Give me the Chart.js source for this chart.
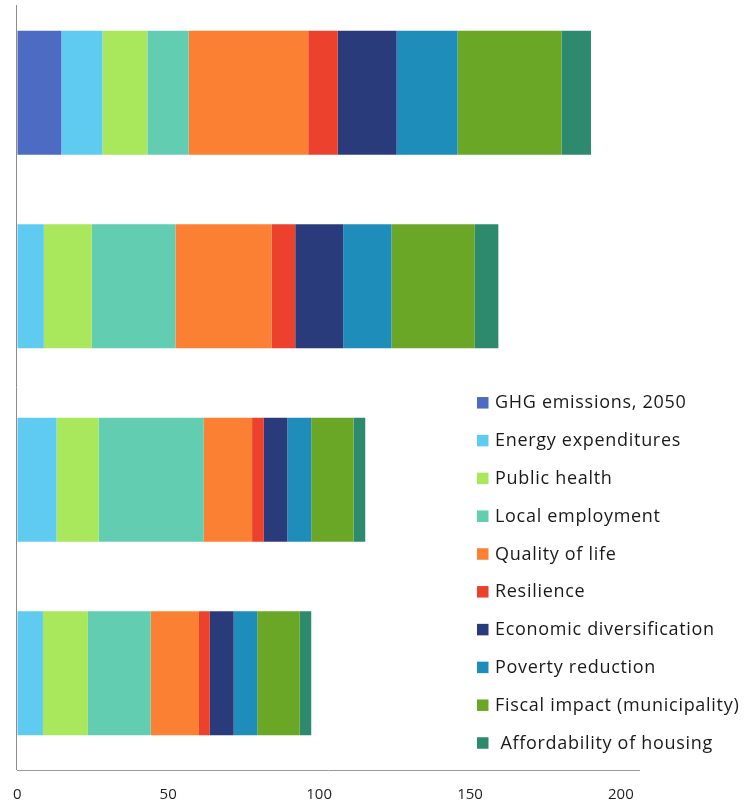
<!DOCTYPE html>
<html>
<head>
<meta charset="utf-8">
<script src="https://cdn.jsdelivr.net/npm/chart.js@4/dist/chart.umd.min.js"></script>
<style>
  html, body { margin: 0; padding: 0; background: #fff; overflow: hidden; }
  #wrap { position: relative; width: 746px; height: 801px; overflow: hidden; }
  #chart { position: absolute; left: -3px; top: -4px; }
</style>
</head>
<body>
<div id="wrap"><canvas id="chart" width="749" height="824"></canvas></div>
<script>
// Four stacked bars, one value per indicator
const categories = ['', '', '', ''];
const xTicks = [0, 50, 100, 150, 200];

const seriesNames = [
  'GHG emissions, 2050',
  'Energy expenditures',
  'Public health',
  'Local employment',
  'Quality of life',
  'Resilience',
  'Economic diversification',
  'Poverty reduction',
  'Fiscal impact (municipality)',
  ' Affordability of housing'
];

const ghgEmissions       = [14.6, 0, 0, 0];
const energyExpenditures = [13.6, 8.8, 13.0, 8.5];
const publicHealth       = [14.9, 15.9, 14.0, 14.9];
const localEmployment    = [13.7, 27.7, 34.8, 20.8];
const qualityOfLife      = [39.6, 31.9, 16.0, 16.0];
const resilience         = [9.8, 7.8, 3.9, 3.6];
const economicDiv        = [19.5, 15.9, 7.8, 7.9];
const povertyReduction   = [20.2, 16.0, 7.9, 7.8];
const fiscalImpact       = [34.4, 27.6, 14.0, 14.1];
const affordability      = [9.8, 7.8, 3.9, 3.8];

const seriesValues = [
  ghgEmissions, energyExpenditures, publicHealth, localEmployment, qualityOfLife,
  resilience, economicDiv, povertyReduction, fiscalImpact, affordability
];

const seriesColors = [
  '#4d6bc3', '#5fcbf0', '#a9e75d', '#62cdb0', '#fc8033',
  '#eb412d', '#2a3b7b', '#1e8db9', '#6aa727', '#2e8a6c'
];

// Left axis line, starting a little below the top edge
const leftAxisLine = {
  id: 'leftAxisLine',
  afterDraw(chart) {
    const { ctx, chartArea } = chart;
    ctx.save();
    ctx.strokeStyle = '#8c8c8c';
    ctx.lineWidth = 1;
    ctx.beginPath();
    ctx.moveTo(Math.round(chartArea.left) - 0.5, 9);
    ctx.lineTo(Math.round(chartArea.left) - 0.5, chartArea.bottom);
    ctx.stroke();
    ctx.restore();
  }
};

// Legend drawn inside the plot, lower right
const insideLegend = {
  id: 'insideLegend',
  afterDraw(chart) {
    const { ctx } = chart;
    const x0 = 480, y0 = 406.8, step = 37.8, box = 11.5;
    ctx.save();
    ctx.font = '18px "Open Sans", Lato, sans-serif';
    if ('letterSpacing' in ctx) ctx.letterSpacing = '0.7px';
    ctx.textBaseline = 'middle';
    ctx.textAlign = 'left';
    chart.data.datasets.forEach((ds, i) => {
      const cy = y0 + i * step;
      ctx.fillStyle = ds.backgroundColor;
      ctx.fillRect(x0, cy - box / 2, box, box);
      ctx.fillStyle = '#1a1a1a';
      ctx.fillText(ds.label, x0 + box + 6.5, cy + 0.5);
    });
    ctx.restore();
  }
};

new Chart(document.getElementById('chart'), {
  type: 'bar',
  data: {
    labels: categories,
    datasets: seriesNames.map((name, i) => ({
      label: name,
      data: seriesValues[i],
      backgroundColor: seriesColors[i],
      borderWidth: 0,
      barPercentage: 0.642,
      categoryPercentage: 1.0
    }))
  },
  options: {
    indexAxis: 'y',
    responsive: false,
    animation: false,
    devicePixelRatio: 1,
    layout: { padding: { left: 11, right: 107, top: 0, bottom: 0 } },
    plugins: {
      legend: { display: false },
      tooltip: { enabled: false }
    },
    scales: {
      x: {
        stacked: true,
        min: 0,
        max: 206,
        afterBuildTicks(scale) {
          scale.ticks = xTicks.map(v => ({ value: v }));
        },
        grid: { display: false, drawTicks: false },
        border: { display: true, color: '#9a9a9a', width: 1 },
        ticks: {
          padding: 16,
          color: '#1f1f1f',
          font: { family: '"Open Sans", Lato, sans-serif', size: 15 },
          maxRotation: 0
        }
      },
      y: {
        stacked: true,
        display: false
      }
    }
  },
  plugins: [leftAxisLine, insideLegend]
});
</script>
</body>
</html>
